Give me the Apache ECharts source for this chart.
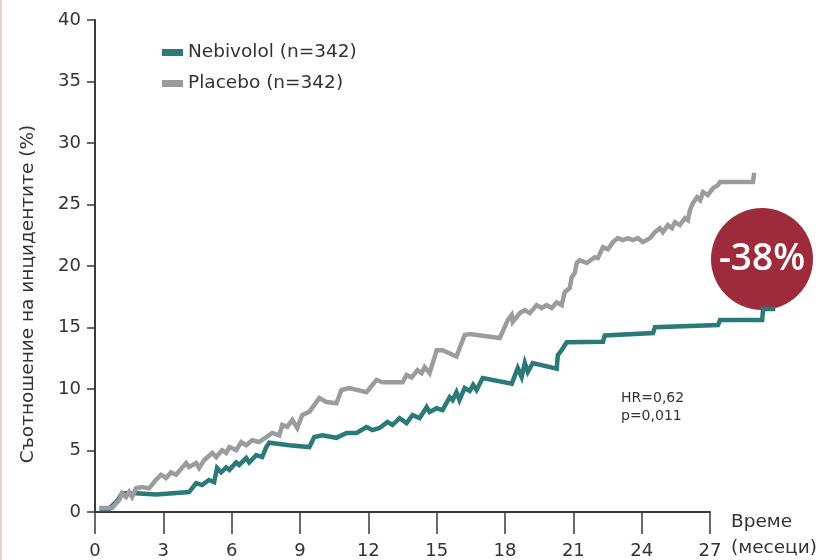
<!DOCTYPE html>
<html>
<head>
<meta charset="utf-8">
<script src="https://cdn.jsdelivr.net/npm/echarts@6/dist/echarts.min.js"></script>
<style>
html,body{margin:0;padding:0;background:#fff;}
#chart{width:823px;height:560px;}
</style>
</head>
<body>
<div id="chart"></div>
<script>
// ---- data (months, cumulative event rate %) ----
const seriesNames = ["Nebivolol (n=342)", "Placebo (n=342)"];
const xTicks = [0, 3, 6, 9, 12, 15, 18, 21, 24, 27];
const yTicks = [0, 5, 10, 15, 20, 25, 30, 35, 40];

const nebivololMonths = [0.2,0.6,1.0,1.19,1.8,2.68,4.13,4.44,4.7,5.0,5.23,5.36,5.54,5.76,5.9,6.2,6.33,6.64,6.77,7.08,7.34,7.52,7.65,8.53,9.41,9.63,9.98,10.6,11.04,11.48,11.92,12.18,12.49,12.84,13.06,13.37,13.68,13.94,14.25,14.56,14.69,15.0,15.26,15.57,15.7,15.87,16.0,16.23,16.45,16.6,16.75,17.02,18.3,18.56,18.73,18.87,19.0,19.22,20.27,20.32,20.49,20.62,20.71,22.3,22.38,24.5,24.58,27.35,27.44,29.29,29.33,29.86];
const nebivololRates  = [0.3,0.3,1.05,1.6,1.6,1.5,1.7,2.43,2.27,2.68,2.5,3.65,3.3,3.7,3.5,4.1,3.9,4.46,4.1,4.7,4.54,5.35,5.7,5.5,5.35,6.16,6.3,6.1,6.5,6.5,6.97,6.73,6.9,7.38,7.14,7.7,7.3,7.95,7.7,8.6,8.2,8.5,8.35,9.4,9.16,9.8,9.16,10.14,9.9,10.4,9.98,10.95,10.5,11.76,11.03,12.17,11.44,12.17,11.7,12.81,13.22,13.6,13.85,13.9,14.4,14.6,15.08,15.25,15.65,15.65,16.55,16.55];

const placeboMonths = [0.18,0.75,1.06,1.19,1.36,1.5,1.63,1.8,2.07,2.37,2.68,2.9,3.12,3.34,3.56,4.0,4.13,4.44,4.57,4.8,5.15,5.32,5.58,5.76,5.9,6.2,6.42,6.64,6.9,7.2,7.52,7.78,8.09,8.22,8.44,8.66,8.88,9.1,9.41,9.85,10.16,10.6,10.82,11.17,11.92,12.36,12.62,13.5,13.68,13.9,14.16,14.34,14.47,14.69,15.0,15.26,15.87,16.23,16.45,17.77,18.12,18.29,18.34,18.65,18.87,19.09,19.39,19.61,19.83,20.05,20.27,20.49,20.62,20.84,20.93,21.06,21.15,21.28,21.59,21.94,22.08,22.3,22.52,22.74,22.95,23.17,23.39,23.61,23.83,24.05,24.36,24.58,24.8,24.93,25.15,25.33,25.46,25.68,25.9,26.03,26.12,26.25,26.43,26.57,26.69,26.91,27.13,27.35,27.44,28.89,28.94];
const placeboRates  = [0.4,0.4,1.05,1.6,1.3,1.7,1.3,2.0,2.1,2.0,2.7,3.1,2.84,3.3,3.1,4.05,3.73,4.05,3.65,4.3,4.87,4.54,5.1,4.87,5.35,5.1,5.76,5.5,5.9,5.76,6.16,6.5,6.3,7.14,7.0,7.54,6.9,7.95,8.2,9.33,9.0,8.9,9.98,10.14,9.8,10.8,10.6,10.6,11.2,11.0,11.6,11.35,11.84,11.35,13.2,13.2,12.7,14.44,14.52,14.2,15.65,16.06,15.5,16.22,16.46,16.22,16.87,16.63,16.87,16.63,17.1,16.87,17.92,18.25,19.14,19.46,20.28,20.52,20.28,20.76,20.68,21.57,21.4,21.98,22.3,22.14,22.3,22.14,22.3,21.98,22.3,22.79,23.11,22.79,23.36,23.11,23.6,23.36,23.93,23.76,24.57,25.14,25.63,25.38,26.03,25.79,26.36,26.6,26.85,26.85,27.6];

const yAxisTitle = "Съотношение на инцидентите (%)";
const xAxisTitle = "Време\n(месеци)";
const hrText = "HR=0,62\np=0,011";
const reductionText = "-38%";

function pairs(xs, ys) { return xs.map((x, i) => [x, ys[i]]); }

const FONT = '"DejaVu Sans", sans-serif';
const chart = echarts.init(document.getElementById('chart'), null, {renderer: 'canvas'});

// Visible axes end at 27 months; the curves continue a little past the last tick,
// so they are plotted on a hidden, identically scaled axis running to 30 months.
const LEFT = 95, RIGHT_VISIBLE = 113;
const pxPerMonth = (823 - LEFT - RIGHT_VISIBLE) / 27;
const RIGHT_DATA = 823 - LEFT - pxPerMonth * 30;

chart.setOption({
  animation: false,
  backgroundColor: '#ffffff',
  textStyle: {fontFamily: FONT},
  grid: [
    {left: LEFT, right: RIGHT_VISIBLE, top: 20, bottom: 47, containLabel: false},
    {left: LEFT, right: RIGHT_DATA, top: 20, bottom: 47, containLabel: false}
  ],
  legend: {
    orient: 'vertical',
    left: 157, top: 38,
    itemGap: 12,
    icon: 'rect',
    itemWidth: 21, itemHeight: 7,
    textStyle: {fontFamily: FONT, fontSize: 18.5, color: '#333'},
    data: seriesNames
  },
  xAxis: [
    {
      gridIndex: 0, type: 'value', min: 0, max: 27, interval: 3,
      axisLine: {show: true, lineStyle: {color: '#3a3a3a', width: 2}},
      axisTick: {show: true, length: 22, lineStyle: {color: '#3a3a3a', width: 1.5}},
      axisLabel: {margin: 30, fontSize: 18, color: '#333', fontFamily: FONT,
        formatter: v => xTicks.indexOf(v) >= 0 ? String(v) : ''},
      splitLine: {show: false}
    },
    {gridIndex: 1, type: 'value', min: 0, max: 30, show: false, splitLine: {show: false}}
  ],
  yAxis: [
    {
      gridIndex: 0, type: 'value', min: 0, max: 40, interval: 5,
      axisLine: {show: true, lineStyle: {color: '#3a3a3a', width: 2}},
      axisTick: {show: true, length: 8, lineStyle: {color: '#3a3a3a', width: 1.5}},
      axisLabel: {margin: 14, fontSize: 18, color: '#333', fontFamily: FONT,
        formatter: v => yTicks.indexOf(v) >= 0 ? String(v) : ''},
      splitLine: {show: false}
    },
    {gridIndex: 1, type: 'value', min: 0, max: 40, show: false, splitLine: {show: false}}
  ],
  series: [
    {
      name: seriesNames[0], type: 'line', xAxisIndex: 1, yAxisIndex: 1,
      clip: false, showSymbol: false, symbol: 'none', z: 3,
      color: '#2a7a7a',
      lineStyle: {width: 4.5, color: '#2a7a7a', join: 'miter'},
      data: pairs(nebivololMonths, nebivololRates)
    },
    {
      name: seriesNames[1], type: 'line', xAxisIndex: 1, yAxisIndex: 1,
      clip: false, showSymbol: false, symbol: 'none', z: 3,
      color: '#9c9c9e',
      lineStyle: {width: 4.5, color: '#9c9c9e', join: 'miter'},
      data: pairs(placeboMonths, placeboRates)
    }
  ],
  graphic: [
    {type: 'rect', left: 0, top: 0, z: 1, shape: {width: 2, height: 560}, style: {fill: '#ecd3cc'}},
    {type: 'text', x: 28, y: 294, rotation: Math.PI / 2, z: 1,
      style: {text: yAxisTitle, fontFamily: FONT, fontSize: 18.5, fill: '#333', align: 'center', verticalAlign: 'middle'}},
    {type: 'text', left: 731, top: 509, z: 1,
      style: {text: xAxisTitle, fontFamily: FONT, fontSize: 18.5, lineHeight: 26, fill: '#333'}},
    {type: 'text', left: 621, top: 389, z: 1,
      style: {text: hrText, fontFamily: FONT, fontSize: 14, lineHeight: 18, fill: '#333'}},
    {type: 'circle', z: 1, shape: {cx: 762, cy: 259, r: 51}, style: {fill: '#9e2b3b'}},
    {type: 'text', x: 762, y: 259, z: 10,
      style: {text: reductionText, fontFamily: '"Open Sans", sans-serif', fontSize: 37, fontWeight: 600, fill: '#ffffff', align: 'center', verticalAlign: 'middle'}}
  ]
});
</script>
</body>
</html>
